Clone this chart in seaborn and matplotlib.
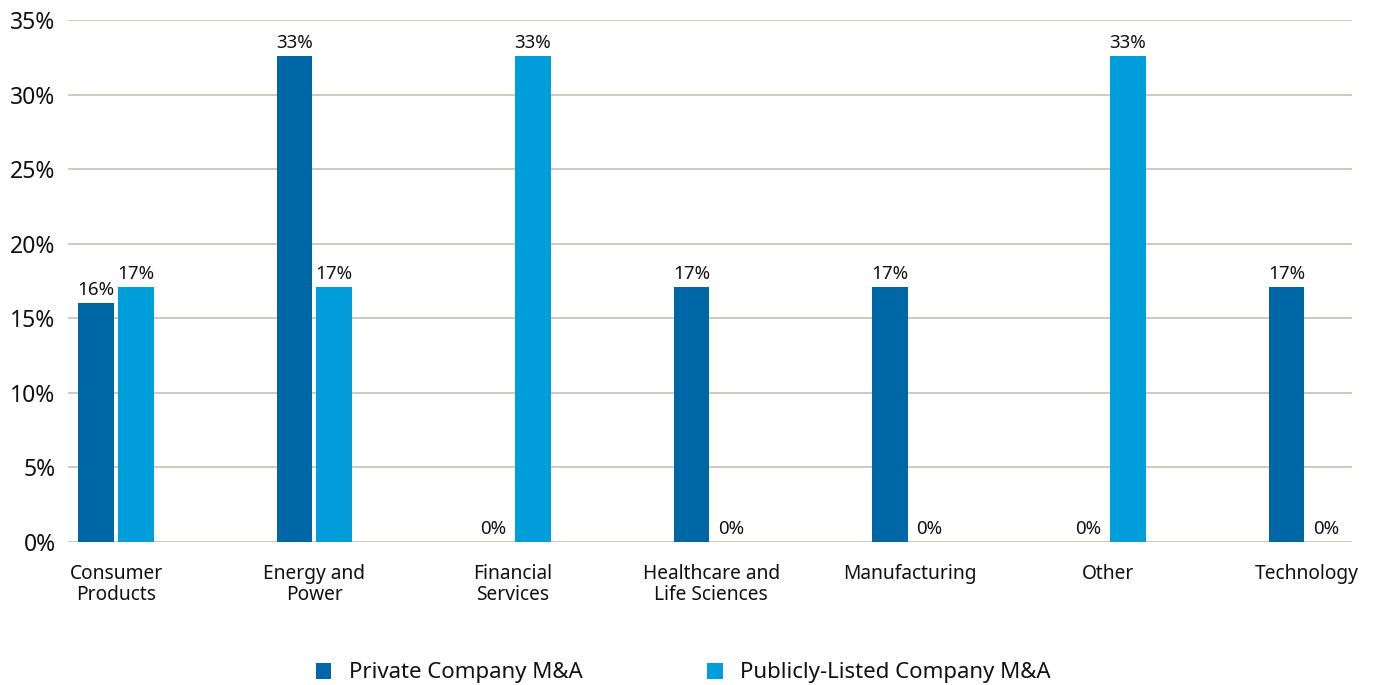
import pandas as pd
import numpy as np
import matplotlib.pyplot as plt
import seaborn as sns
from matplotlib.patches import Patch

# data (percent)
categories = ["Consumer\nProducts", "Energy and\nPower", "Financial\nServices",
              "Healthcare and\nLife Sciences", "Manufacturing", "Other", "Technology"]
private_ma = [16.0, 32.6, 0.0, 17.1, 17.1, 0.0, 17.1]
public_ma = [17.1, 17.1, 32.6, 0.0, 0.0, 32.6, 0.0]
series_names = ["Private Company M&A", "Publicly-Listed Company M&A"]
colors = ["#0067a7", "#009ddb"]
grid_color = "#c9bfb5"

df = pd.DataFrame({
    "category": categories * 2,
    "value": private_ma + public_ma,
    "series": [series_names[0]] * len(categories) + [series_names[1]] * len(categories),
})

sns.set_theme(style="white")
plt.rcParams["font.family"] = ["Noto Sans", "DejaVu Sans"]

fig = plt.figure(figsize=(13.75, 6.85), dpi=100)
ax = fig.add_axes([0.0495, 0.2088, 0.9338, 0.762])

sns.barplot(data=df, x="category", y="value", hue="series", palette=colors,
            width=0.4, gap=0.1, saturation=1, linewidth=0, ax=ax, legend=False)

# value labels
for cont, vals in zip(ax.containers, [private_ma, public_ma]):
    ax.bar_label(cont, labels=[f"{v:.0f}%" for v in vals], padding=3, fontsize=13.5, color="#111111")

ax.set_ylim(0, 35)
ax.set_xlim(-0.242, 6.23)
ax.set_yticks(np.arange(0, 36, 5))
ax.set_yticklabels([f"{t}%" for t in range(0, 36, 5)])
ax.yaxis.grid(True, color=grid_color, linewidth=1.2)
ax.set_axisbelow(True)
for s in ax.spines.values():
    s.set_visible(False)
ax.tick_params(axis="y", length=0, pad=9, labelsize=16.5, labelcolor="#111111")
ax.tick_params(axis="x", length=0, pad=16, labelsize=13.8, labelcolor="#111111")
ax.set_xlabel("")
ax.set_ylabel("")
for lbl in ax.get_xticklabels():
    lbl.set_linespacing(1.05)

handles = [Patch(facecolor=c, edgecolor="none") for c in colors]
fig.legend(handles, series_names, loc="lower center", bbox_to_anchor=(0.497, -0.027),
           ncol=2, frameon=False, fontsize=16, handlelength=0.7, handleheight=0.75,
           handletextpad=0.8, columnspacing=5.6, labelcolor="#111111")

fig.savefig("out.png", dpi=100)
